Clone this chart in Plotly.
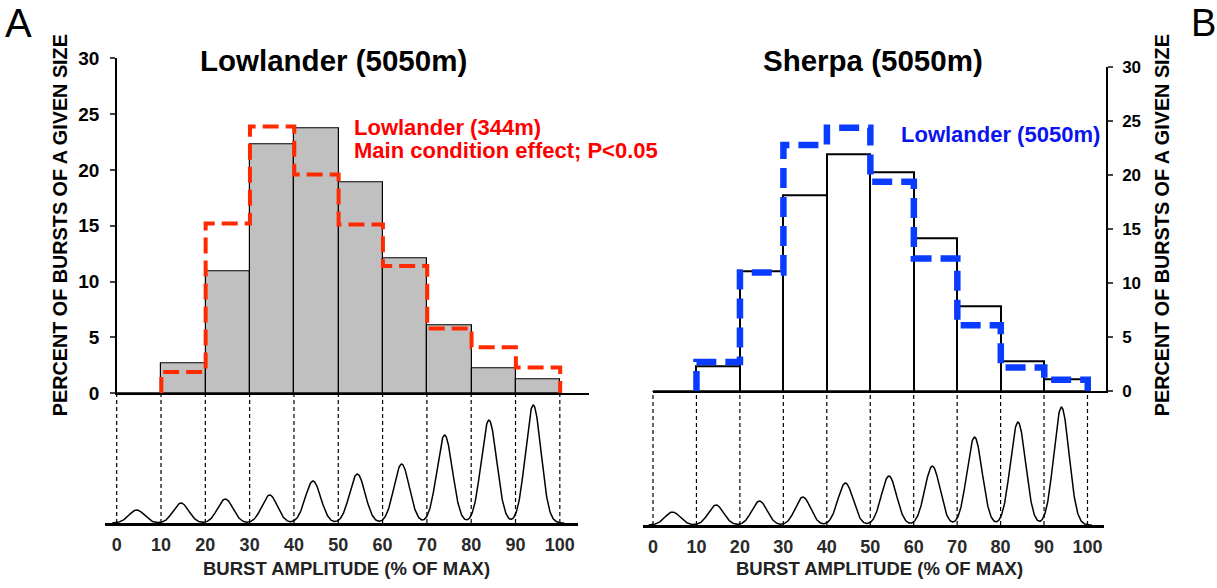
import plotly.graph_objects as go

# ---------------- data ----------------
bin_edges = [0, 10, 20, 30, 40, 50, 60, 70, 80, 90, 100]
bin_centers = [5, 15, 25, 35, 45, 55, 65, 75, 85, 95]

lowlander_5050 = [0, 2.7, 10.9, 22.3, 23.7, 18.9, 12.1, 6.1, 2.25, 1.25]
lowlander_344 = [0, 1.9, 15.2, 23.9, 19.6, 15.1, 11.4, 5.8, 4.1, 2.3]
sherpa_5050 = [0, 2.3, 11.1, 18.1, 21.9, 20.3, 14.2, 7.9, 2.8, 1.05]
lowlander_5050_overlay = [0, 2.7, 11.0, 22.8, 24.4, 19.4, 12.3, 6.1, 2.2, 1.05]

# schematic burst waveform: peak centre and peak height (arbitrary units) per bin
wave_peak_centers = [4.5, 14.5, 24.5, 34.5, 44.3, 54.3, 64.3, 74.0, 84.0, 94.0]
wave_peak_heights = [13, 20, 24, 28, 42, 49, 59, 88, 103, 118]

x_tick_labels = ["0", "10", "20", "30", "40", "50", "60", "70", "80", "90", "100"]
y_tick_vals = [0, 5, 10, 15, 20, 25, 30]

W, H = 1217, 588
FONT = "Liberation Sans, Arial, sans-serif"

# vertical placement helper (the captured page shows the canvas slightly
# compressed vertically; positions are given in target picture pixels)
V_SCALE, V_OFF = 0.965, 9.6


def px_x(p):
    return p / W


def px_y(p):
    return 1 - ((p - V_OFF) / V_SCALE) / H


def step_path(values, start_bin):
    xs, ys = [], []
    xs.append(bin_edges[start_bin]); ys.append(0)
    for i in range(start_bin, len(values)):
        xs += [bin_edges[i], bin_edges[i + 1]]
        ys += [values[i], values[i]]
    xs.append(bin_edges[-1]); ys.append(0)
    return xs, ys


def waveform():
    import math
    xs, ys = [], []
    n = 1200
    for k in range(n + 1):
        x = -1 + 102 * k / n
        y = 0.0
        for c, h in zip(wave_peak_centers, wave_peak_heights):
            y += h * math.exp(-0.5 * ((x - c) / 1.75) ** 2)
        xs.append(x); ys.append(y)
    return xs, ys


fig = go.Figure()
fig.add_trace(go.Bar(x=bin_centers, y=lowlander_5050, width=10,
                     marker=dict(color="#c0c0c0", line=dict(color="black", width=1.2)),
                     xaxis="x", yaxis="y", hoverinfo="skip"))
rx, ry = step_path(lowlander_344, 1)
fig.add_trace(go.Scatter(x=rx, y=ry, mode="lines",
                         line=dict(color="#ff2a00", width=4, dash="16px,7px"),
                         xaxis="x", yaxis="y", hoverinfo="skip"))
fig.add_trace(go.Bar(x=bin_centers, y=sherpa_5050, width=10,
                     marker=dict(color="white", line=dict(color="black", width=2)),
                     xaxis="x2", yaxis="y2", hoverinfo="skip"))
bx, by = step_path(lowlander_5050_overlay, 1)
fig.add_trace(go.Scatter(x=bx, y=by, mode="lines",
                         line=dict(color="#0a3cff", width=6.5, dash="20px,9px"),
                         xaxis="x2", yaxis="y2", hoverinfo="skip"))
wx, wy = waveform()
for xa, ya in (("x3", "y3"), ("x4", "y4")):
    fig.add_trace(go.Scatter(x=wx, y=wy, mode="lines",
                             line=dict(color="black", width=1.5),
                             xaxis=xa, yaxis=ya, hoverinfo="skip"))

shapes = []
for e in bin_edges:
    shapes.append(dict(type="line", xref="x3", yref="paper", x0=e, x1=e,
                       y0=px_y(523), y1=px_y(393),
                       line=dict(color="black", width=1.2, dash="4px,3px")))
    shapes.append(dict(type="line", xref="x4", yref="paper", x0=e, x1=e,
                       y0=px_y(525), y1=px_y(391),
                       line=dict(color="black", width=1.2, dash="4px,3px")))

bold = dict(family=FONT, weight="bold")
common_hidden = dict(showgrid=False, zeroline=False, fixedrange=True)

fig.update_layout(
    width=W, height=H,
    margin=dict(l=0, r=0, t=0, b=0),
    paper_bgcolor="white", plot_bgcolor="rgba(0,0,0,0)",
    showlegend=False, barmode="overlay", bargap=0,
    font=dict(family=FONT, color="black"),
    shapes=shapes,
    xaxis=dict(domain=[px_x(117), px_x(589)], range=[0, 106.5], anchor="y",
               showline=True, linecolor="black", linewidth=1.5,
               showticklabels=False, ticks="", **common_hidden),
    yaxis=dict(domain=[px_y(393), px_y(58)], range=[0, 30], anchor="x",
               showline=True, linecolor="black", linewidth=1.5,
               tickvals=y_tick_vals, ticks="outside", ticklen=5, tickwidth=1.5,
               ticklabelstandoff=7,
               tickfont=dict(size=19, color="black", **bold), **common_hidden),
    xaxis2=dict(domain=[px_x(653), px_x(1106)], range=[0, 104.2], anchor="y2",
                showline=True, linecolor="black", linewidth=1.5,
                showticklabels=False, ticks="", **common_hidden),
    yaxis2=dict(domain=[px_y(391), px_y(67)], range=[0, 30], anchor="x2", side="right",
                showline=True, linecolor="black", linewidth=1.5,
                tickvals=y_tick_vals, ticks="outside", ticklen=5, tickwidth=1.5,
                ticklabelstandoff=6,
                tickfont=dict(size=17, color="black", **bold), **common_hidden),
    xaxis3=dict(domain=[px_x(105), px_x(578)], range=[-2.64, 104.1], anchor="y3",
                showline=True, linecolor="black", linewidth=2.5,
                tickvals=bin_edges, ticktext=x_tick_labels,
                ticks="outside", ticklen=4, tickcolor="rgba(0,0,0,0)",
                tickfont=dict(size=18, color="#2a2a2a", **bold), **common_hidden),
    yaxis3=dict(domain=[px_y(523), px_y(398)], range=[0, 125], anchor="x3",
                visible=False, **common_hidden),
    xaxis4=dict(domain=[px_x(643), px_x(1104)], range=[-2.3, 103.8], anchor="y4",
                showline=True, linecolor="black", linewidth=2.5,
                tickvals=bin_edges, ticktext=x_tick_labels,
                ticks="outside", ticklen=4, tickcolor="rgba(0,0,0,0)",
                tickfont=dict(size=18, color="#2a2a2a", **bold), **common_hidden),
    yaxis4=dict(domain=[px_y(525), px_y(400)], range=[0, 125], anchor="x4",
                visible=False, **common_hidden),
)

ann = []


def add_text(text, x, y, size, color="black", weight="bold", xanchor="center",
             angle=0, family=FONT, yanchor="middle", align="center"):
    ann.append(dict(text=text, x=px_x(x), y=px_y(y), xref="paper", yref="paper",
                    xanchor=xanchor, yanchor=yanchor, showarrow=False, textangle=angle,
                    align=align,
                    font=dict(family=family, size=size, color=color, weight=weight)))


add_text("Lowlander (5050m)", 333, 60, 29.5)
add_text("Sherpa (5050m)", 873, 60, 29.5)
add_text("Lowlander (344m)", 352, 127, 22, color="#ff0000", xanchor="left")
add_text("Main condition effect; P<0.05", 352, 150, 22, color="#ff0000", xanchor="left")
add_text("Lowlander (5050m)", 1102, 134, 22, color="#0a14f0", xanchor="right")
add_text("PERCENT OF BURSTS OF A GIVEN SIZE", 60, 225, 19.8, angle=-90)
add_text("PERCENT OF BURSTS OF A GIVEN SIZE", 1162, 225, 19.8, angle=-90)
add_text("BURST AMPLITUDE (% OF MAX)", 346, 568.5, 18.5, color="#222222")
add_text("BURST AMPLITUDE (% OF MAX)", 880, 568.5, 18.5, color="#222222")
add_text("A", 18, 23, 40, weight="normal")
add_text("B", 1203, 23, 38, weight="normal")

fig.update_layout(annotations=ann)

fig.write_html("out.html", config={"displayModeBar": False},
               post_script="document.documentElement.style.margin='0';"
                           "document.body.style.margin='0';"
                           "document.documentElement.style.overflow='hidden';"
                           "document.body.style.overflow='hidden';")
